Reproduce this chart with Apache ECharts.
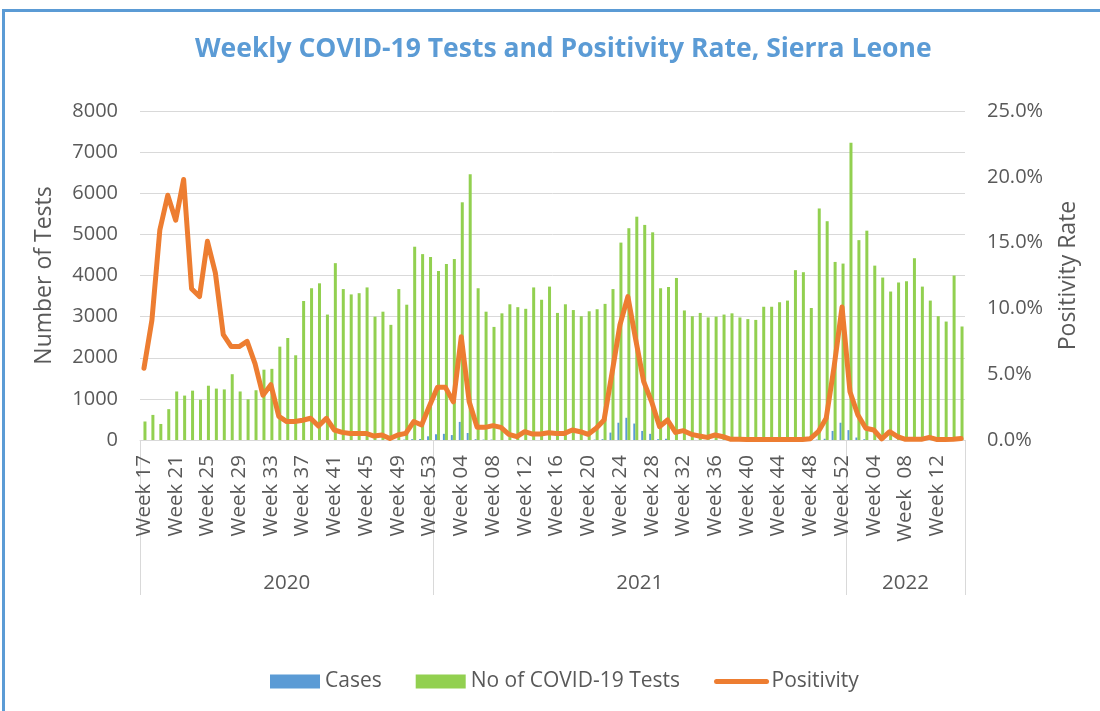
<!DOCTYPE html>
<html>
<head>
<meta charset="utf-8">
<script src="https://cdn.jsdelivr.net/npm/echarts@6/dist/echarts.min.js"></script>
<style>
html,body{margin:0;padding:0;background:#fff;}
#chart{position:absolute;left:0;top:0;width:1100px;height:711px;}
#frame{position:absolute;left:2px;top:9px;width:1200px;height:800px;border-top:3px solid #5B9BD5;border-left:3px solid #5B9BD5;pointer-events:none;}
</style>
</head>
<body>
<div id="chart"></div>
<div id="frame"></div>
<script>
const weeks2020 = ["Week 17","Week 18","Week 19","Week 20","Week 21","Week 22","Week 23","Week 24","Week 25","Week 26","Week 27","Week 28","Week 29","Week 30","Week 31","Week 32","Week 33","Week 34","Week 35","Week 36","Week 37","Week 38","Week 39","Week 40","Week 41","Week 42","Week 43","Week 44","Week 45","Week 46","Week 47","Week 48","Week 49","Week 50","Week 51","Week 52","Week 53"];
const weeks2021 = ["Week 01","Week 02","Week 03","Week 04","Week 05","Week 06","Week 07","Week 08","Week 09","Week 10","Week 11","Week 12","Week 13","Week 14","Week 15","Week 16","Week 17","Week 18","Week 19","Week 20","Week 21","Week 22","Week 23","Week 24","Week 25","Week 26","Week 27","Week 28","Week 29","Week 30","Week 31","Week 32","Week 33","Week 34","Week 35","Week 36","Week 37","Week 38","Week 39","Week 40","Week 41","Week 42","Week 43","Week 44","Week 45","Week 46","Week 47","Week 48","Week 49","Week 50","Week 51","Week 52"];
const weeks2022 = ["Week 01","Week 02","Week 03","Week 04","Week 05","Week 06","Week 07","Week  08","Week 09","Week 10","Week 11","Week 12","Week 13","Week 14","Week 15"];
const years = ["2020","2021","2022"];

const tests = [450,610,390,750,1180,1080,1200,980,1320,1250,1230,1600,1180,990,1210,1710,1730,2270,2480,2060,
3380,3690,3810,3050,4300,3670,3540,3570,3710,3000,3120,2800,3670,3290,4700,4520,4450,
4110,4280,4400,5780,6460,3690,3120,2750,3080,3300,3230,3190,3710,3410,3730,3090,3300,3160,3010,3130,3180,3310,3670,
4800,5150,5430,5230,5050,3690,3720,3940,3150,3010,3090,2980,3000,3050,3080,2980,2940,2920,3240,3240,3350,3390,4130,4080,3210,5630,5320,4330,4290,
7230,4860,5090,4240,3950,3610,3830,3860,4420,3730,3390,3010,2880,4000,2760];

const cases = [0,0,0,0,0,0,0,0,0,0,0,0,0,0,0,0,0,0,0,0,
0,0,0,0,0,0,0,0,0,0,0,0,0,10,20,25,90,
140,150,120,440,170,20,10,10,0,0,0,0,0,0,0,0,0,0,0,0,10,20,180,
420,540,400,220,150,20,30,0,0,0,0,0,0,0,0,0,0,0,0,0,0,0,0,0,0,10,30,220,420,
240,60,20,0,0,0,0,0,0,0,0,0,0,0,0];

const positivity = [5.45,9.1,15.96,18.6,16.7,19.8,11.5,10.9,15.1,12.7,8.0,7.1,7.1,7.5,5.8,3.4,4.2,1.8,1.4,1.4,
1.5,1.65,1.06,1.65,0.76,0.58,0.5,0.5,0.5,0.3,0.38,0.12,0.38,0.5,1.4,1.14,2.6,
4.0,4.0,2.9,7.85,2.9,0.96,0.96,1.09,0.96,0.43,0.25,0.63,0.45,0.45,0.55,0.5,0.5,0.76,0.63,0.43,0.89,1.52,5.07,
8.74,10.9,7.6,4.43,2.9,1.01,1.52,0.58,0.71,0.43,0.3,0.2,0.38,0.25,0.05,0.05,0.03,0.03,0.03,0.03,0.03,0.03,0.03,0.03,0.1,0.63,1.65,5.57,10.1,
3.67,1.9,0.89,0.76,0.08,0.63,0.25,0.05,0.05,0.05,0.2,0.03,0.03,0.05,0.12];

const categories = weeks2020.concat(weeks2021, weeks2022);
const n = categories.length;
const b1 = weeks2020.length, b2 = b1 + weeks2021.length;

const FONT = "Open Sans";
const GRAY = "#595959";

const chart = echarts.init(document.getElementById('chart'), null, {renderer: 'canvas'});
chart.setOption({
  animation: false,
  backgroundColor: '#ffffff',
  textStyle: {fontFamily: FONT, color: GRAY},
  title: {
    text: 'Weekly COVID-19 Tests and Positivity Rate, Sierra Leone',
    left: 190, top: 31,
    textStyle: {fontFamily: FONT, fontSize: 26.5, fontWeight: 'bold', color: '#5B9BD5'}
  },
  legend: {
    bottom: 14, left: 265,
    itemWidth: 50, itemHeight: 14, itemGap: 34,
    textStyle: {fontFamily: FONT, fontSize: 21, color: GRAY},
    data: [
      {name: 'Cases', icon: 'rect'},
      {name: 'No of COVID-19 Tests', icon: 'rect'},
      {name: 'Positivity', itemStyle: {opacity: 0},
        lineStyle: {width: 5, color: '#ED7D31', cap: 'round'}}
    ]
  },
  grid: {left: 140, right: 135, top: 111, bottom: 271, containLabel: false},
  xAxis: [
    {
      type: 'category', data: categories, boundaryGap: true,
      axisLine: {show: true, lineStyle: {color: '#D9D9D9', width: 1}},
      axisTick: {show: false},
      axisLabel: {interval: 3, rotate: 90, fontSize: 20.5, color: GRAY, margin: 15, fontFamily: FONT},
      splitLine: {show: false}
    },
    {
      type: 'value', min: 0, max: n, position: 'bottom',
      axisLine: {show: false},
      splitLine: {show: false},
      axisTick: {show: true, customValues: [0, b1, b2, n], length: 155, inside: false,
        lineStyle: {color: '#D9D9D9', width: 1}},
      axisLabel: {
        show: true, customValues: [b1 / 2, (b1 + b2) / 2, (b2 + n) / 2],
        margin: 133, fontSize: 20.5, color: GRAY, fontFamily: FONT,
        formatter: function (v) { return v < b1 ? years[0] : (v < b2 ? years[1] : years[2]); }
      }
    }
  ],
  yAxis: [
    {
      type: 'value', min: 0, max: 8000, interval: 1000, position: 'left',
      name: 'Number of Tests', nameLocation: 'middle', nameGap: 84, nameRotate: 90,
      nameTextStyle: {fontSize: 23, color: GRAY, fontFamily: FONT},
      axisLine: {show: false}, axisTick: {show: false},
      axisLabel: {fontSize: 20, color: GRAY, margin: 22, fontFamily: FONT,
        formatter: function (v) { return String(v); }},
      splitLine: {show: true, lineStyle: {color: '#D9D9D9', width: 1}}
    },
    {
      type: 'value', min: 0, max: 25, interval: 5, position: 'right',
      name: 'Positivity Rate', nameLocation: 'middle', nameGap: 92, nameRotate: 90,
      nameTextStyle: {fontSize: 23, color: GRAY, fontFamily: FONT},
      axisLine: {show: false}, axisTick: {show: false},
      axisLabel: {fontSize: 20, color: GRAY, margin: 22, fontFamily: FONT,
        formatter: function (v) { return v.toFixed(1) + '%'; }},
      splitLine: {show: false}
    }
  ],
  series: [
    {
      name: 'Cases', type: 'bar', xAxisIndex: 0, yAxisIndex: 0,
      data: cases, barWidth: 2, barGap: '0%',
      itemStyle: {color: '#5B9BD5'}
    },
    {
      name: 'No of COVID-19 Tests', type: 'bar', xAxisIndex: 0, yAxisIndex: 0,
      data: tests, barWidth: 3, barGap: '0%',
      itemStyle: {color: '#92D050'}
    },
    {
      name: 'Positivity', type: 'line', xAxisIndex: 0, yAxisIndex: 1,
      data: positivity, symbol: 'none', smooth: false,
      lineStyle: {color: '#ED7D31', width: 5, cap: 'round', join: 'round'},
      itemStyle: {color: '#ED7D31'}
    }
  ]
});
</script>
</body>
</html>
